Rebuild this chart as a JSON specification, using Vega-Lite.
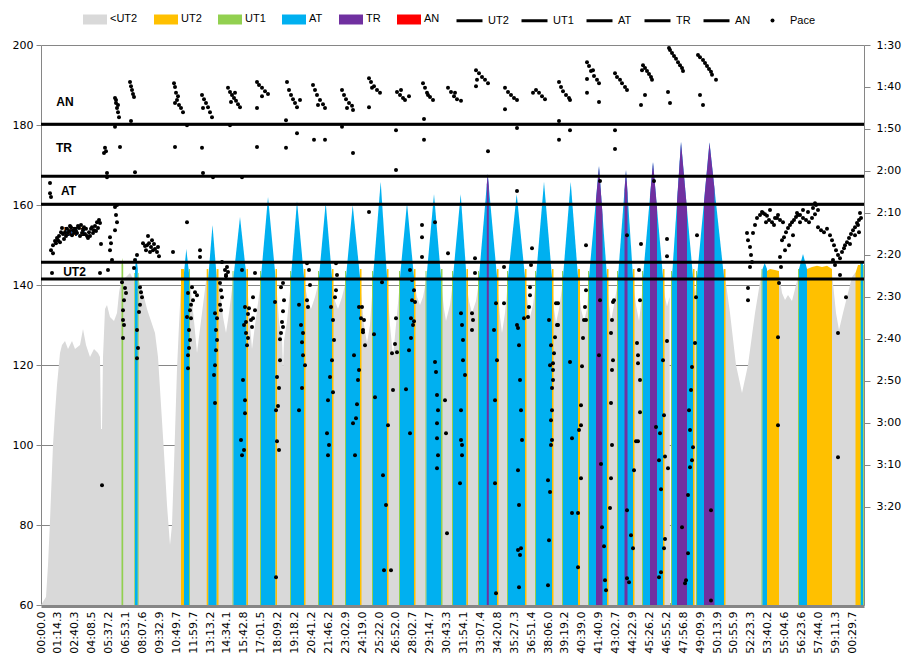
{
"$schema":"https://vega.github.io/schema/vega-lite/v6.json",
"width":823,"height":560,
"autosize":{"type":"none"},
"padding":{"left":41,"top":45,"right":47,"bottom":57},
"background":"white",
"config":{"view":{"stroke":null},"font":"DejaVu Sans","axis":{"labelFont":"DejaVu Sans","labelFontSize":11,"labelColor":"#000000"},"axisX":{"labelOverlap":false,"labelFlush":false,"labelBound":false},"legend":{"labelFont":"Liberation Sans","labelFontSize":11,"labelColor":"#000000","padding":0}},
"datasets":{
"grey":[{"s":0,"hr":60},{"s":5,"hr":62},{"s":7,"hr":70},{"s":9,"hr":81},{"s":12,"hr":100},{"s":14,"hr":108},{"s":16,"hr":115},{"s":19,"hr":123},{"s":21,"hr":125},{"s":24,"hr":126},{"s":27,"hr":124},{"s":31,"hr":126},{"s":34,"hr":124},{"s":39,"hr":125},{"s":42,"hr":129},{"s":45,"hr":125},{"s":49,"hr":122},{"s":53,"hr":124},{"s":57,"hr":123},{"s":59,"hr":122},{"s":60,"hr":104},{"s":61,"hr":104},{"s":62,"hr":122},{"s":64,"hr":134},{"s":66,"hr":135},{"s":69,"hr":132},{"s":73,"hr":131},{"s":76,"hr":133},{"s":78,"hr":138},{"s":80,"hr":141},{"s":85,"hr":142},{"s":89,"hr":143},{"s":93,"hr":141},{"s":98,"hr":141},{"s":102,"hr":138},{"s":106,"hr":134},{"s":110,"hr":131},{"s":114,"hr":128},{"s":117,"hr":122},{"s":120,"hr":110},{"s":123,"hr":98},{"s":126,"hr":85},{"s":129,"hr":75},{"s":131,"hr":80},{"s":133,"hr":95},{"s":136,"hr":119},{"s":138,"hr":130},{"s":140,"hr":140},{"s":144,"hr":142},{"s":149,"hr":141},{"s":153,"hr":131},{"s":156,"hr":123},{"s":160,"hr":131},{"s":165,"hr":141},{"s":171,"hr":142},{"s":178,"hr":141},{"s":182,"hr":132},{"s":185,"hr":128},{"s":188,"hr":133},{"s":192,"hr":141},{"s":199,"hr":142},{"s":206,"hr":141},{"s":209,"hr":130},{"s":211,"hr":124},{"s":214,"hr":130},{"s":220,"hr":141},{"s":227,"hr":142},{"s":235,"hr":141},{"s":238,"hr":131},{"s":241,"hr":126},{"s":242,"hr":119},{"s":243,"hr":126},{"s":246,"hr":131},{"s":250,"hr":141},{"s":256,"hr":142},{"s":263,"hr":141},{"s":267,"hr":136},{"s":270,"hr":134},{"s":274,"hr":137},{"s":278,"hr":141},{"s":284,"hr":142},{"s":291,"hr":141},{"s":294,"hr":136},{"s":297,"hr":134},{"s":301,"hr":137},{"s":305,"hr":141},{"s":312,"hr":142},{"s":319,"hr":141},{"s":323,"hr":130},{"s":326,"hr":125.5},{"s":329,"hr":130},{"s":332,"hr":141},{"s":339,"hr":142},{"s":346,"hr":141},{"s":349,"hr":130},{"s":352,"hr":122},{"s":355,"hr":130},{"s":359,"hr":141},{"s":366,"hr":142},{"s":373,"hr":141},{"s":376,"hr":137},{"s":379,"hr":135},{"s":382,"hr":137},{"s":385,"hr":141},{"s":392,"hr":142},{"s":400,"hr":141},{"s":403,"hr":134},{"s":405,"hr":131},{"s":409,"hr":135},{"s":412,"hr":141},{"s":419,"hr":142},{"s":425,"hr":141},{"s":428,"hr":136},{"s":431,"hr":133},{"s":435,"hr":136},{"s":438,"hr":141},{"s":447,"hr":142},{"s":456,"hr":141},{"s":459,"hr":132},{"s":461,"hr":128},{"s":464,"hr":133},{"s":467,"hr":141},{"s":475,"hr":142},{"s":484,"hr":141},{"s":487,"hr":135},{"s":489,"hr":132},{"s":492,"hr":135},{"s":495,"hr":141},{"s":503,"hr":142},{"s":511,"hr":141},{"s":513,"hr":134},{"s":515,"hr":130.5},{"s":518,"hr":134},{"s":522,"hr":141},{"s":529,"hr":142},{"s":537,"hr":141},{"s":540,"hr":134},{"s":543,"hr":131},{"s":546,"hr":134},{"s":548,"hr":141},{"s":557,"hr":142},{"s":566,"hr":141},{"s":568,"hr":135},{"s":570,"hr":131},{"s":573,"hr":135},{"s":577,"hr":141},{"s":585,"hr":142},{"s":592,"hr":141},{"s":595,"hr":135},{"s":598,"hr":131},{"s":600,"hr":135},{"s":602,"hr":141},{"s":612,"hr":142},{"s":622,"hr":141},{"s":624,"hr":137},{"s":626,"hr":134.6},{"s":628.6,"hr":137},{"s":629,"hr":60},{"s":629.8,"hr":60},{"s":630.2,"hr":137},{"s":631,"hr":141},{"s":641,"hr":142},{"s":652,"hr":141},{"s":654,"hr":138},{"s":656,"hr":141},{"s":669,"hr":142},{"s":683,"hr":144},{"s":689,"hr":133},{"s":695,"hr":120},{"s":701,"hr":113},{"s":707,"hr":120},{"s":714,"hr":133},{"s":721,"hr":143.75},{"s":729,"hr":143},{"s":738,"hr":143},{"s":741,"hr":138},{"s":744,"hr":136.25},{"s":747,"hr":137.5},{"s":751,"hr":136},{"s":755,"hr":140},{"s":758,"hr":143},{"s":769,"hr":143},{"s":791,"hr":143},{"s":795,"hr":133},{"s":798,"hr":128.75},{"s":802,"hr":133},{"s":807,"hr":138},{"s":811,"hr":142},{"s":814,"hr":143},{"s":823,"hr":144}],
"zones":[
{"g":1,"z":"UT1","s":80.5,"hr":145},{"g":1,"z":"UT1","s":81.3,"hr":146.75},{"g":1,"z":"UT1","s":82.2,"hr":145},
{"g":2,"z":"UT1","s":93.3,"hr":143},{"g":2,"z":"UT1","s":94.2,"hr":143},
{"g":3,"z":"AT","s":94,"hr":144},{"g":3,"z":"AT","s":95.3,"hr":147},{"g":3,"z":"AT","s":96.8,"hr":144},
{"g":4,"z":"UT1","s":96.8,"hr":143},{"g":4,"z":"UT1","s":97.6,"hr":143},
{"g":5,"z":"UT2","s":140,"hr":144},{"g":5,"z":"UT2","s":143,"hr":144},
{"g":6,"z":"AT","s":143,"hr":143},{"g":6,"z":"AT","s":145.3,"hr":149},{"g":6,"z":"AT","s":148,"hr":143},
{"g":7,"z":"UT1","s":148,"hr":144},{"g":7,"z":"UT1","s":149,"hr":144},
{"g":8,"z":"UT2","s":165.7,"hr":144},{"g":8,"z":"UT2","s":167.3,"hr":144},
{"g":9,"z":"AT","s":167.3,"hr":142},{"g":9,"z":"AT","s":171.5,"hr":155},{"g":9,"z":"AT","s":175.7,"hr":142},
{"g":10,"z":"UT2","s":175.7,"hr":144},{"g":10,"z":"UT2","s":177.5,"hr":144},
{"g":11,"z":"UT1","s":191.5,"hr":143.5},{"g":11,"z":"UT1","s":192.5,"hr":143.5},
{"g":12,"z":"AT","s":192.5,"hr":142},{"g":12,"z":"AT","s":199,"hr":157},{"g":12,"z":"AT","s":205.5,"hr":142},
{"g":13,"z":"UT2","s":205.5,"hr":144},{"g":13,"z":"UT2","s":207,"hr":144},
{"g":14,"z":"UT1","s":219,"hr":143.5},{"g":14,"z":"UT1","s":220,"hr":143.5},
{"g":15,"z":"AT","s":220,"hr":142},{"g":15,"z":"AT","s":227,"hr":162},{"g":15,"z":"AT","s":234.5,"hr":142},
{"g":16,"z":"UT2","s":234.5,"hr":144},{"g":16,"z":"UT2","s":236,"hr":144},
{"g":17,"z":"UT1","s":249,"hr":143.5},{"g":17,"z":"UT1","s":250,"hr":143.5},
{"g":18,"z":"AT","s":250,"hr":142},{"g":18,"z":"AT","s":256,"hr":161},{"g":18,"z":"AT","s":263,"hr":142},
{"g":19,"z":"UT2","s":263,"hr":144},{"g":19,"z":"UT2","s":264.5,"hr":144},
{"g":20,"z":"UT1","s":277,"hr":143.5},{"g":20,"z":"UT1","s":278,"hr":143.5},
{"g":21,"z":"AT","s":278,"hr":142},{"g":21,"z":"AT","s":284.7,"hr":160.6},{"g":21,"z":"AT","s":291,"hr":142},
{"g":22,"z":"UT2","s":291,"hr":144},{"g":22,"z":"UT2","s":292.5,"hr":144},
{"g":23,"z":"UT1","s":304,"hr":143.5},{"g":23,"z":"UT1","s":305,"hr":143.5},
{"g":24,"z":"AT","s":305,"hr":142},{"g":24,"z":"AT","s":311.7,"hr":160},{"g":24,"z":"AT","s":319,"hr":142},
{"g":25,"z":"UT2","s":319,"hr":144},{"g":25,"z":"UT2","s":320.5,"hr":144},
{"g":26,"z":"UT1","s":331,"hr":143.5},{"g":26,"z":"UT1","s":332,"hr":143.5},
{"g":27,"z":"AT","s":332,"hr":142},{"g":27,"z":"AT","s":339.7,"hr":165.8},{"g":27,"z":"AT","s":346,"hr":142},
{"g":28,"z":"UT2","s":346,"hr":144},{"g":28,"z":"UT2","s":347.5,"hr":144},
{"g":29,"z":"UT1","s":358,"hr":143.5},{"g":29,"z":"UT1","s":359,"hr":143.5},
{"g":30,"z":"AT","s":359,"hr":142},{"g":30,"z":"AT","s":366,"hr":160.5},{"g":30,"z":"AT","s":373,"hr":142},
{"g":31,"z":"UT2","s":373,"hr":144},{"g":31,"z":"UT2","s":374.5,"hr":144},
{"g":32,"z":"UT1","s":384.5,"hr":143.5},{"g":32,"z":"UT1","s":385.5,"hr":143.5},
{"g":33,"z":"AT","s":385.5,"hr":142},{"g":33,"z":"AT","s":393,"hr":162.75},{"g":33,"z":"AT","s":400,"hr":142},
{"g":34,"z":"UT1","s":400,"hr":144},{"g":34,"z":"UT1","s":401.5,"hr":144},
{"g":35,"z":"UT1","s":411,"hr":143.5},{"g":35,"z":"UT1","s":412,"hr":143.5},
{"g":36,"z":"AT","s":412,"hr":142},{"g":36,"z":"AT","s":419.7,"hr":162.75},{"g":36,"z":"AT","s":425.5,"hr":142},
{"g":37,"z":"UT2","s":425.5,"hr":144},{"g":37,"z":"UT2","s":427,"hr":144},
{"g":38,"z":"UT1","s":437,"hr":143.5},{"g":38,"z":"UT1","s":438,"hr":143.5},
{"g":39,"z":"AT","s":438,"hr":142},{"g":39,"z":"AT","s":446.7,"hr":167.75},{"g":39,"z":"AT","s":456,"hr":142},
{"g":40,"z":"TR","s":445.8,"hr":165.1},{"g":40,"z":"TR","s":446.7,"hr":167.75},{"g":40,"z":"TR","s":447.8,"hr":164.7},
{"g":41,"z":"UT2","s":456,"hr":144},{"g":41,"z":"UT2","s":457.5,"hr":144},
{"g":42,"z":"UT1","s":466,"hr":143.5},{"g":42,"z":"UT1","s":467,"hr":143.5},
{"g":43,"z":"AT","s":467,"hr":142},{"g":43,"z":"AT","s":475.7,"hr":162.75},{"g":43,"z":"AT","s":484,"hr":142},
{"g":44,"z":"UT2","s":484,"hr":144},{"g":44,"z":"UT2","s":485.5,"hr":144},
{"g":45,"z":"UT1","s":494,"hr":143.5},{"g":45,"z":"UT1","s":495,"hr":143.5},
{"g":46,"z":"AT","s":495,"hr":142},{"g":46,"z":"AT","s":503,"hr":165.8},{"g":46,"z":"AT","s":511,"hr":142},
{"g":47,"z":"UT2","s":511,"hr":144},{"g":47,"z":"UT2","s":512.5,"hr":144},
{"g":48,"z":"UT1","s":521,"hr":143.5},{"g":48,"z":"UT1","s":522,"hr":143.5},
{"g":49,"z":"AT","s":522,"hr":142},{"g":49,"z":"AT","s":529.7,"hr":165.8},{"g":49,"z":"AT","s":537,"hr":142},
{"g":50,"z":"UT2","s":537,"hr":144},{"g":50,"z":"UT2","s":539,"hr":144},
{"g":51,"z":"UT1","s":547,"hr":143.5},{"g":51,"z":"UT1","s":548,"hr":143.5},
{"g":52,"z":"AT","s":548,"hr":142},{"g":52,"z":"AT","s":558,"hr":169.75},{"g":52,"z":"AT","s":566,"hr":142},
{"g":53,"z":"TR","s":555,"hr":161.4},{"g":53,"z":"TR","s":558,"hr":169.75},{"g":53,"z":"TR","s":561.5,"hr":157.6},
{"g":54,"z":"UT2","s":566,"hr":144},{"g":54,"z":"UT2","s":567.5,"hr":144},
{"g":55,"z":"UT1","s":576,"hr":143.5},{"g":55,"z":"UT1","s":577,"hr":143.5},
{"g":56,"z":"AT","s":577,"hr":142},{"g":56,"z":"AT","s":585,"hr":168.75},{"g":56,"z":"AT","s":592,"hr":142},
{"g":57,"z":"TR","s":583.5,"hr":163.7},{"g":57,"z":"TR","s":585,"hr":168.75},{"g":57,"z":"TR","s":586.5,"hr":163},
{"g":58,"z":"UT2","s":592,"hr":144},{"g":58,"z":"UT2","s":593.5,"hr":144},
{"g":59,"z":"UT1","s":601,"hr":143.5},{"g":59,"z":"UT1","s":602,"hr":143.5},
{"g":60,"z":"AT","s":602,"hr":142},{"g":60,"z":"AT","s":612,"hr":170.75},{"g":60,"z":"AT","s":622,"hr":142},
{"g":61,"z":"TR","s":609,"hr":162.1},{"g":61,"z":"TR","s":612,"hr":170.75},{"g":61,"z":"TR","s":616,"hr":159.25},
{"g":62,"z":"UT2","s":622,"hr":144},{"g":62,"z":"UT2","s":623.5,"hr":144},
{"g":63,"z":"UT1","s":630,"hr":143.5},{"g":63,"z":"UT1","s":631,"hr":143.5},
{"g":64,"z":"AT","s":631,"hr":142},{"g":64,"z":"AT","s":640,"hr":175.8},{"g":64,"z":"AT","s":652,"hr":142},
{"g":65,"z":"TR","s":636,"hr":160.8},{"g":65,"z":"TR","s":640,"hr":175.8},{"g":65,"z":"TR","s":646,"hr":158.9},
{"g":66,"z":"UT2","s":652,"hr":144},{"g":66,"z":"UT2","s":653.5,"hr":144},
{"g":67,"z":"UT1","s":655,"hr":143.5},{"g":67,"z":"UT1","s":656,"hr":143.5},
{"g":68,"z":"AT","s":656,"hr":142},{"g":68,"z":"AT","s":668.5,"hr":175.6},{"g":68,"z":"AT","s":683,"hr":142},
{"g":69,"z":"TR","s":663,"hr":160.8},{"g":69,"z":"TR","s":668.5,"hr":175.6},{"g":69,"z":"TR","s":673.5,"hr":164},
{"g":70,"z":"UT2","s":683,"hr":144},{"g":70,"z":"UT2","s":684.5,"hr":144},
{"g":71,"z":"UT1","s":720.5,"hr":144},{"g":71,"z":"UT1","s":721.5,"hr":144},
{"g":72,"z":"AT","s":721.5,"hr":144},{"g":72,"z":"AT","s":723.7,"hr":145.5},{"g":72,"z":"AT","s":726,"hr":144},
{"g":73,"z":"UT2","s":726,"hr":143.5},{"g":73,"z":"UT2","s":729,"hr":144},{"g":73,"z":"UT2","s":734,"hr":143.75},{"g":73,"z":"UT2","s":738,"hr":143.5},
{"g":74,"z":"UT1","s":757,"hr":144},{"g":74,"z":"UT1","s":758,"hr":144},
{"g":75,"z":"AT","s":758,"hr":144},{"g":75,"z":"AT","s":762,"hr":147.75},{"g":75,"z":"AT","s":766,"hr":144},
{"g":76,"z":"UT2","s":766,"hr":144},{"g":76,"z":"UT2","s":771,"hr":144.5},{"g":76,"z":"UT2","s":776,"hr":144.8},{"g":76,"z":"UT2","s":781,"hr":144.5},{"g":76,"z":"UT2","s":786,"hr":144.8},{"g":76,"z":"UT2","s":791,"hr":144},
{"g":77,"z":"UT2","s":814.5,"hr":143},{"g":77,"z":"UT2","s":817,"hr":145},{"g":77,"z":"UT2","s":819,"hr":145},
{"g":78,"z":"UT1","s":819,"hr":145.5},{"g":78,"z":"UT1","s":820,"hr":145.5},
{"g":79,"z":"AT","s":820,"hr":146},{"g":79,"z":"AT","s":822,"hr":146},
{"g":80,"z":"UT1","s":822,"hr":145},{"g":80,"z":"UT1","s":822.8,"hr":145}
],
"lines":[{"line":"UT2","hr":141.5},{"line":"UT1","hr":145.7},{"line":"AT","hr":160.2},{"line":"TR","hr":167.2},{"line":"AN","hr":180.2}],
"labels":[{"s":24,"hr":185.75,"t":"AN"},{"s":23,"hr":174.25,"t":"TR"},{"s":27.5,"hr":163.5,"t":"AT"},{"s":34,"hr":153.25,"t":"UT1"},{"s":33.5,"hr":143.25,"t":"UT2"}],
"pace":[
{"s":9,"p":122.9},{"s":9,"p":125.3},{"s":10,"p":126.2},{"s":10,"p":138.9},{"s":12,"p":139.6},{"s":11,"p":144.3},{"s":12,"p":137.7},{"s":14,"p":136.7},{"s":16,"p":136.0},{"s":18,"p":135.5},{"s":20,"p":134.6},{"s":22,"p":135.0},{"s":24,"p":134.6},{"s":26,"p":133.8},{"s":28,"p":134.3},{"s":30,"p":133.4},{"s":32,"p":134.1},{"s":34,"p":133.8},{"s":36,"p":134.8},{"s":38,"p":133.6},{"s":40,"p":132.9},{"s":42,"p":134.1},{"s":44,"p":135.0},{"s":46,"p":135.5},{"s":48,"p":134.6},{"s":50,"p":133.8},{"s":52,"p":134.8},{"s":54,"p":133.1},{"s":56,"p":132.2},{"s":58,"p":131.7},{"s":21,"p":133.6},{"s":25,"p":135.5},{"s":29,"p":133.1},{"s":33,"p":134.8},{"s":37,"p":133.1},{"s":41,"p":134.8},{"s":45,"p":133.8},{"s":49,"p":135.5},{"s":53,"p":134.1},{"s":57,"p":133.6},{"s":19,"p":137.0},{"s":23,"p":136.2},{"s":15,"p":137.2},{"s":17,"p":136.5},{"s":27,"p":134.8},{"s":31,"p":135.3},{"s":35,"p":134.3},{"s":39,"p":135.5},{"s":43,"p":133.4},{"s":47,"p":136.0},{"s":51,"p":133.4},{"s":55,"p":134.3},{"s":59,"p":132.4},
{"s":60,"p":137.4},{"s":59,"p":144.3},{"s":64,"p":114.5},{"s":65,"p":115.3},{"s":63,"p":115.7},{"s":66,"p":120.5},{"s":66,"p":121.5},{"s":69,"p":135.8},{"s":70,"p":137.2},{"s":69,"p":138.9},{"s":71,"p":141.2},{"s":67,"p":143.6},
{"s":74,"p":102.6},{"s":75,"p":103.8},{"s":76,"p":105.0},{"s":77,"p":106.0},{"s":78,"p":107.2},{"s":75,"p":103.1},{"s":77,"p":104.3},{"s":74,"p":109.5},{"s":76,"p":128.1},{"s":75,"p":130.5},{"s":76,"p":132.2},{"s":74,"p":134.1},{"s":74,"p":128.6},
{"s":89,"p":98.8},{"s":90,"p":99.8},{"s":91,"p":100.7},{"s":92,"p":101.7},{"s":93,"p":102.4},{"s":90,"p":108.1},{"s":94,"p":120.3},{"s":79,"p":114.3},{"s":94,"p":141.2},{"s":93,"p":143.1},{"s":96,"p":140.0},
{"s":102,"p":137.2},{"s":104,"p":137.9},{"s":106,"p":137.7},{"s":108,"p":137.2},{"s":110,"p":138.1},{"s":112,"p":138.9},{"s":114,"p":138.6},{"s":116,"p":139.3},{"s":118,"p":140.3},{"s":105,"p":138.9},{"s":109,"p":139.3},{"s":113,"p":137.4},{"s":117,"p":138.1},{"s":107,"p":135.5},{"s":111,"p":136.5},
{"s":81,"p":146.5},{"s":84,"p":147.9},{"s":85,"p":149.1},{"s":83,"p":150.8},{"s":82,"p":153.2},{"s":82,"p":155.5},{"s":83,"p":156.7},{"s":82,"p":159.8},{"s":99,"p":147.7},{"s":100,"p":148.9},{"s":101,"p":150.1},{"s":99,"p":151.9},{"s":98,"p":153.6},{"s":96,"p":157.9},{"s":97,"p":162.2},{"s":96,"p":164.6},{"s":61,"p":194.9},
{"s":133,"p":99.1},{"s":134,"p":100.0},{"s":135,"p":101.4},{"s":136,"p":103.1},{"s":138,"p":104.3},{"s":140,"p":105.0},{"s":142,"p":106.0},{"s":134,"p":103.8},{"s":137,"p":102.2},{"s":134,"p":114.3},{"s":146,"p":109.1},{"s":146,"p":132.2},{"s":132,"p":139.3},{"s":146,"p":154.8},{"s":151,"p":147.7},{"s":154,"p":148.9},{"s":156,"p":149.6},{"s":152,"p":150.8},{"s":150,"p":151.9},{"s":147,"p":149.1},{"s":149,"p":153.2},{"s":150,"p":155.1},{"s":148,"p":157.9},{"s":149,"p":160.3},{"s":148,"p":162.2},{"s":147,"p":163.9},{"s":147,"p":167.0},
{"s":161,"p":101.9},{"s":163,"p":102.9},{"s":165,"p":103.8},{"s":167,"p":104.8},{"s":169,"p":106.0},{"s":171,"p":107.2},{"s":162,"p":105.0},{"s":161,"p":114.5},{"s":162,"p":120.5},{"s":172,"p":121.5},{"s":159,"p":138.9},{"s":159,"p":140.5},{"s":174,"p":153.9},{"s":176,"p":155.1},{"s":175,"p":157.9},{"s":176,"p":160.3},{"s":175,"p":162.7},{"s":174,"p":166.3},{"s":173,"p":168.6},{"s":174,"p":175.3},{"s":179,"p":146.7},{"s":180,"p":148.4},{"s":181,"p":150.1},{"s":179,"p":151.9},{"s":180,"p":153.2},{"s":181,"p":141.7},{"s":184,"p":143.6},{"s":185,"p":144.8},
{"s":187,"p":100.2},{"s":189,"p":101.2},{"s":191,"p":101.9},{"s":193,"p":102.6},{"s":195,"p":103.3},{"s":197,"p":104.1},{"s":199,"p":104.8},{"s":190,"p":103.6},{"s":194,"p":101.4},{"s":189,"p":109.1},{"s":201,"p":121.5},{"s":186,"p":142.9},{"s":185,"p":145.1},{"s":187,"p":144.1},{"s":201,"p":143.6},{"s":204,"p":152.4},{"s":207,"p":154.1},{"s":205,"p":156.0},{"s":203,"p":156.7},{"s":205,"p":158.6},{"s":207,"p":159.8},{"s":206,"p":161.5},{"s":202,"p":169.8},{"s":204,"p":174.6},{"s":204,"p":177.7},{"s":203,"p":186.5},{"s":201,"p":187.7},{"s":200,"p":184.1},{"s":208,"p":152.7},{"s":210,"p":155.5},{"s":211,"p":157.2},{"s":212,"p":155.1},{"s":214,"p":153.2},
{"s":216,"p":98.8},{"s":218,"p":99.5},{"s":221,"p":100.2},{"s":224,"p":101.0},{"s":227,"p":101.7},{"s":221,"p":102.2},{"s":216,"p":105.0},{"s":216,"p":114.3},{"s":214,"p":144.3},{"s":212,"p":150.1},{"s":240,"p":147.7},{"s":243,"p":150.8},{"s":242,"p":153.4},{"s":241,"p":156.0},{"s":240,"p":158.6},{"s":239,"p":160.1},{"s":239,"p":165.1},{"s":238,"p":171.7},{"s":237,"p":176.0},{"s":238,"p":186.5},{"s":235,"p":216.8},{"s":234,"p":151.2},{"s":236,"p":169.1},{"s":235,"p":177.0},{"s":236,"p":184.4},{"s":242,"p":146.7},{"s":242,"p":157.2},
{"s":246,"p":98.8},{"s":248,"p":100.7},{"s":250,"p":101.9},{"s":252,"p":102.9},{"s":254,"p":103.8},{"s":256,"p":104.8},{"s":259,"p":103.1},{"s":245,"p":107.9},{"s":245,"p":114.5},{"s":256,"p":111.0},{"s":258,"p":151.9},{"s":260,"p":156.7},{"s":261,"p":160.8},{"s":262,"p":163.9},{"s":264,"p":166.3},{"s":261,"p":171.7},{"s":258,"p":177.0},{"s":262,"p":158.6},{"s":266,"p":142.0},{"s":268,"p":143.6},{"s":269,"p":147.2},{"s":266,"p":150.8},{"s":267,"p":152.4},
{"s":272,"p":99.5},{"s":274,"p":100.7},{"s":276,"p":101.9},{"s":279,"p":103.1},{"s":282,"p":104.1},{"s":284,"p":105.0},{"s":277,"p":104.3},{"s":273,"p":112.6},{"s":284,"p":112.6},{"s":290,"p":152.4},{"s":292,"p":155.5},{"s":293,"p":160.3},{"s":291,"p":165.1},{"s":289,"p":169.1},{"s":287,"p":174.6},{"s":286,"p":182.5},{"s":288,"p":185.3},{"s":287,"p":187.7},{"s":292,"p":172.7},{"s":295,"p":142.0},{"s":296,"p":144.8},{"s":295,"p":148.4},{"s":294,"p":150.1},
{"s":301,"p":100.7},{"s":303,"p":101.9},{"s":305,"p":102.9},{"s":308,"p":103.8},{"s":311,"p":104.5},{"s":312,"p":105.5},{"s":306,"p":105.0},{"s":301,"p":109.5},{"s":312,"p":115.7},{"s":318,"p":152.4},{"s":320,"p":155.1},{"s":322,"p":158.4},{"s":324,"p":161.5},{"s":318,"p":167.4},{"s":317,"p":169.8},{"s":316,"p":175.6},{"s":315,"p":178.9},{"s":314,"p":187.7},{"s":312,"p":180.1},{"s":313,"p":163.9},{"s":321,"p":152.4},{"s":323,"p":155.5},{"s":322,"p":157.9},
{"s":328,"p":97.9},{"s":330,"p":98.8},{"s":333,"p":99.8},{"s":336,"p":100.7},{"s":339,"p":101.4},{"s":331,"p":100.2},{"s":328,"p":104.8},{"s":328,"p":129.8},{"s":333,"p":158.9},{"s":334,"p":173.9},{"s":342,"p":192.5},{"s":345,"p":199.6},{"s":343,"p":215.1},{"s":350,"p":215.1},{"s":347,"p":180.6},{"s":352,"p":172.2},{"s":351,"p":163.4},{"s":341,"p":146.5},
{"s":355,"p":110.3},{"s":355,"p":119.8},{"s":356,"p":101.2},{"s":359,"p":101.9},{"s":362,"p":102.6},{"s":364,"p":103.1},{"s":368,"p":102.2},{"s":360,"p":100.7},{"s":355,"p":155.1},{"s":354,"p":161.2},{"s":356,"p":163.2},{"s":370,"p":159.8},{"s":368,"p":162.7},{"s":365,"p":172.0},{"s":369,"p":182.5},{"s":373,"p":155.8},{"s":374,"p":151.2},{"s":369,"p":143.6},{"s":371,"p":146.0},{"s":373,"p":148.4},{"s":371,"p":150.8},{"s":370,"p":155.1},{"s":372,"p":156.7},
{"s":382,"p":99.1},{"s":384,"p":100.2},{"s":386,"p":101.4},{"s":389,"p":102.4},{"s":392,"p":103.1},{"s":387,"p":101.9},{"s":383,"p":107.6},{"s":383,"p":112.6},{"s":381,"p":132.9},{"s":381,"p":135.8},{"s":381,"p":140.5},{"s":394,"p":132.2},{"s":394,"p":165.5},{"s":395,"p":167.9},{"s":396,"p":173.4},{"s":397,"p":177.0},{"s":396,"p":180.1},{"s":396,"p":183.7},{"s":397,"p":187.7},{"s":396,"p":190.8},{"s":405,"p":182.5},{"s":406,"p":206.3},{"s":404,"p":174.6},
{"s":407,"p":100.2},{"s":410,"p":101.2},{"s":413,"p":102.2},{"s":416,"p":102.9},{"s":420,"p":103.3},{"s":414,"p":101.4},{"s":407,"p":139.6},{"s":420,"p":153.9},{"s":421,"p":156.7},{"s":422,"p":160.3},{"s":422,"p":165.1},{"s":420,"p":177.0},{"s":420,"p":184.1},{"s":421,"p":187.7},{"s":419,"p":194.4},{"s":421,"p":185.3},{"s":424,"p":168.6},{"s":434,"p":140.8},{"s":434,"p":144.3},{"s":431,"p":153.9},{"s":432,"p":155.5},{"s":431,"p":157.9},
{"s":435,"p":96.0},{"s":438,"p":96.7},{"s":441,"p":97.6},{"s":444,"p":98.3},{"s":447,"p":99.1},{"s":436,"p":98.3},{"s":435,"p":99.8},{"s":447,"p":115.3},{"s":455,"p":151.5},{"s":453,"p":157.9},{"s":456,"p":165.1},{"s":454,"p":174.6},{"s":454,"p":194.4},{"s":455,"p":220.6},
{"s":464,"p":100.2},{"s":467,"p":101.2},{"s":470,"p":101.9},{"s":473,"p":102.6},{"s":476,"p":103.1},{"s":464,"p":105.3},{"s":476,"p":109.8},{"s":476,"p":124.8},{"s":463,"p":142.9},{"s":463,"p":151.5},{"s":476,"p":156.7},{"s":477,"p":157.4},{"s":478,"p":161.5},{"s":479,"p":169.8},{"s":480,"p":177.0},{"s":481,"p":184.1},{"s":477,"p":191.3},{"s":478,"p":199.6},{"s":480,"p":209.9},{"s":477,"p":210.3},{"s":479,"p":211.5},{"s":478,"p":219.2},{"s":483,"p":155.1},
{"s":492,"p":101.4},{"s":495,"p":100.7},{"s":498,"p":101.4},{"s":501,"p":102.2},{"s":504,"p":102.9},{"s":491,"p":138.4},{"s":490,"p":142.4},{"s":489,"p":147.7},{"s":489,"p":149.6},{"s":488,"p":152.4},{"s":487,"p":154.8},{"s":508,"p":155.5},{"s":510,"p":161.5},{"s":509,"p":166.3},{"s":512,"p":169.8},{"s":511,"p":184.1},{"s":510,"p":185.3},{"s":507,"p":193.7},{"s":509,"p":196.5},{"s":508,"p":208.0},{"s":507,"p":218.7},
{"s":518,"p":98.8},{"s":520,"p":100.0},{"s":522,"p":101.0},{"s":525,"p":101.9},{"s":528,"p":102.6},{"s":529,"p":103.1},{"s":518,"p":108.1},{"s":518,"p":112.6},{"s":529,"p":110.3},{"s":517,"p":151.5},{"s":517,"p":156.7},{"s":515,"p":151.5},{"s":516,"p":156.7},{"s":514,"p":159.6},{"s":513,"p":163.4},{"s":512,"p":165.8},{"s":512,"p":167.4},{"s":511,"p":171.7},{"s":511,"p":177.0},{"s":510,"p":179.4},{"s":529,"p":165.5},{"s":531,"p":183.7},{"s":531,"p":201.5},{"s":545,"p":137.7},{"s":545,"p":148.4},{"s":545,"p":155.5},{"s":543,"p":155.5},{"s":542,"p":159.8},{"s":541,"p":166.5},{"s":540,"p":175.8},{"s":540,"p":180.6},{"s":538,"p":181.7},{"s":540,"p":193.2},{"s":537,"p":201.5},{"s":537,"p":214.4},{"s":544,"p":152.4},
{"s":546,"p":94.1},{"s":548,"p":95.0},{"s":550,"p":96.2},{"s":553,"p":97.4},{"s":556,"p":98.3},{"s":558,"p":99.1},{"s":552,"p":96.0},{"s":546,"p":98.1},{"s":546,"p":101.4},{"s":558,"p":103.6},{"s":559,"p":122.4},{"s":559,"p":150.8},{"s":558,"p":163.9},{"s":560,"p":189.8},{"s":561,"p":204.9},{"s":563,"p":209.4},{"s":564,"p":217.5},{"s":565,"p":219.9},{"s":569,"p":200.3},{"s":570,"p":193.2},{"s":571,"p":185.3},{"s":570,"p":175.3},{"s":571,"p":167.4},{"s":572,"p":165.1},{"s":570,"p":158.6},{"s":571,"p":155.5},{"s":573,"p":150.8},{"s":572,"p":151.2},
{"s":574,"p":96.7},{"s":576,"p":97.6},{"s":579,"p":98.3},{"s":581,"p":99.1},{"s":584,"p":100.0},{"s":586,"p":100.7},{"s":574,"p":110.3},{"s":574,"p":114.8},{"s":586,"p":135.3},{"s":596,"p":161.0},{"s":597,"p":163.9},{"s":597,"p":165.8},{"s":599,"p":169.8},{"s":599,"p":177.5},{"s":595,"p":184.4},{"s":597,"p":184.4},{"s":593,"p":191.3},{"s":590,"p":206.8},{"s":586,"p":200.8},{"s":588,"p":218.0},{"s":586,"p":217.0},{"s":592,"p":209.9},{"s":600,"p":137.4},{"s":598,"p":143.6},{"s":599,"p":150.8},
{"s":602,"p":94.8},{"s":604,"p":95.5},{"s":606,"p":96.2},{"s":608,"p":96.9},{"s":610,"p":97.6},{"s":611,"p":98.3},{"s":601,"p":96.0},{"s":600,"p":104.3},{"s":604,"p":101.9},{"s":613,"p":122.4},{"s":615,"p":181.0},{"s":619,"p":182.5},{"s":618,"p":188.9},{"s":620,"p":195.8},{"s":624,"p":207.7},{"s":623,"p":209.9},{"s":620,"p":215.6},{"s":618,"p":216.8},{"s":627,"p":190.8},{"s":624,"p":188.0},{"s":626,"p":160.5},{"s":623,"p":178.2},{"s":622,"p":165.1},{"s":626,"p":136.2},{"s":626,"p":140.3},
{"s":628,"p":90.7},{"s":629,"p":91.2},{"s":631,"p":91.9},{"s":633,"p":92.6},{"s":635,"p":93.3},{"s":637,"p":94.1},{"s":639,"p":94.8},{"s":641,"p":95.5},{"s":642,"p":96.2},{"s":627,"p":101.2},{"s":629,"p":103.8},{"s":641,"p":204.9},{"s":644,"p":218.2},{"s":645,"p":217.5},{"s":647,"p":197.2},{"s":649,"p":190.6},{"s":651,"p":188.9},{"s":652,"p":185.8},{"s":649,"p":181.7},{"s":648,"p":177.0},{"s":650,"p":172.2},{"s":651,"p":166.7},{"s":654,"p":161.0},{"s":647,"p":211.1},{"s":656,"p":135.3},{"s":655,"p":150.1},
{"s":657,"p":92.4},{"s":659,"p":92.9},{"s":662,"p":93.6},{"s":664,"p":94.3},{"s":666,"p":95.0},{"s":668,"p":95.7},{"s":670,"p":96.4},{"s":671,"p":97.1},{"s":659,"p":101.9},{"s":662,"p":104.3},{"s":670,"p":200.8},{"s":670,"p":222.3},{"s":675,"p":98.3},
{"s":706,"p":134.8},{"s":707,"p":136.5},{"s":709,"p":138.1},{"s":710,"p":140.0},{"s":711,"p":141.7},{"s":709,"p":142.9},{"s":707,"p":147.9},{"s":707,"p":150.8},{"s":712,"p":134.8},{"s":714,"p":132.9},{"s":716,"p":131.2},{"s":719,"p":130.5},{"s":721,"p":129.8},{"s":724,"p":130.3},{"s":726,"p":130.7},{"s":728,"p":131.7},{"s":731,"p":132.2},{"s":734,"p":131.2},{"s":737,"p":130.5},{"s":739,"p":131.7},{"s":742,"p":132.2},{"s":722,"p":130.0},{"s":736,"p":131.2},{"s":739,"p":140.5},{"s":740,"p":142.9},{"s":738,"p":146.7},{"s":737,"p":159.6},{"s":729,"p":129.3},{"s":733,"p":132.9},{"s":725,"p":132.2},
{"s":741,"p":136.5},{"s":743,"p":135.8},{"s":745,"p":134.6},{"s":747,"p":133.6},{"s":749,"p":132.9},{"s":751,"p":132.2},{"s":753,"p":131.7},{"s":755,"p":131.0},{"s":757,"p":130.5},{"s":744,"p":138.9},{"s":748,"p":137.7},{"s":752,"p":135.3},{"s":756,"p":130.0},{"s":759,"p":130.5},{"s":762,"p":131.2},{"s":765,"p":131.7},{"s":768,"p":132.2},{"s":771,"p":131.2},{"s":774,"p":130.3},{"s":777,"p":129.3},{"s":775,"p":128.1},{"s":772,"p":128.8},{"s":767,"p":129.8},{"s":762,"p":129.3},{"s":759,"p":132.2},{"s":774,"p":127.7},{"s":777,"p":133.4},{"s":780,"p":134.1},{"s":783,"p":134.6},{"s":786,"p":133.8},{"s":789,"p":135.3},
{"s":791,"p":136.5},{"s":793,"p":137.7},{"s":795,"p":138.9},{"s":797,"p":140.0},{"s":799,"p":140.8},{"s":801,"p":139.3},{"s":803,"p":138.4},{"s":792,"p":141.2},{"s":794,"p":142.4},{"s":799,"p":144.8},{"s":805,"p":150.1},{"s":797,"p":158.6},{"s":804,"p":137.7},{"s":806,"p":137.0},{"s":808,"p":136.0},{"s":810,"p":135.0},{"s":812,"p":134.1},{"s":814,"p":133.4},{"s":816,"p":132.4},{"s":818,"p":131.7},{"s":820,"p":131.2},{"s":819,"p":130.0},{"s":817,"p":132.9},{"s":814,"p":135.3},{"s":809,"p":137.4},{"s":818,"p":134.6},{"s":737,"p":180.6},{"s":797,"p":188.2}
]
},
"layer":[
{"layer":[
 {"data":{"name":"grey"},"mark":{"type":"area","color":"#d9d9d9","opacity":1,"clip":true},
  "encoding":{
   "x":{"field":"s","type":"quantitative","title":null,"scale":{"domain":[0,823],"nice":false,"zero":false},
     "axis":{"values":[0,16.9,33.8,50.7,67.6,84.5,101.4,118.3,135.2,152.1,169,185.9,202.8,219.7,236.6,253.5,270.4,287.3,304.2,321.1,338,354.9,371.8,388.7,405.6,422.5,439.4,456.3,473.2,490.1,507,523.9,540.8,557.7,574.6,591.5,608.4,625.3,642.2,659.1,676,692.9,709.8,726.7,743.6,760.5,777.4,794.3,811.2],
     "tickCount":200,
     "labelExpr":"['00:00.0','01:14.3','02:40.3','04:08.5','05:37.2','06:53.1','08:07.6','09:32.9','10:49.7','11:59.7','13:13.2','14:34.1','15:42.8','17:01.5','18:09.2','19:18.2','20:41.2','21:46.2','23:02.9','24:19.0','25:22.0','26:52.0','28:02.7','29:14.7','30:43.3','31:54.1','33:07.4','34:20.8','35:27.3','36:51.4','38:06.0','39:19.2','40:39.0','41:40.9','43:02.7','44:22.9','45:26.2','46:55.2','47:56.8','49:09.9','50:13.9','50:55.9','52:23.3','53:40.2','55:04.6','56:23.6','57:44.0','59:11.3','00:29.7'][round(datum.value/16.9)]",
     "labelAngle":-90,"ticks":false,"grid":false,"domainColor":"#868686","domainWidth":5,"labelPadding":6,"labelOverlap":false,"labelFlush":false,"labelBound":false,"labelFontSize":11}},
   "y":{"field":"hr","type":"quantitative","title":null,"scale":{"domain":[60,200],"nice":false,"zero":false},
     "axis":{"values":[60,80,100,120,140,160,180,200],"grid":true,"gridColor":"#868686","gridWidth":1,"domainColor":"#868686","tickColor":"#868686","tickSize":5,"labelPadding":3,"labelFlush":false,"labelFontSize":11}},
   "y2":{"datum":60}}},
 {"data":{"name":"zones"},"mark":{"type":"area","opacity":1,"clip":true},
  "encoding":{
   "x":{"field":"s","type":"quantitative","title":null},
   "y":{"field":"hr","type":"quantitative","title":null},
   "y2":{"datum":60},
   "detail":{"field":"g","type":"nominal"},
   "color":{"field":"z","type":"nominal","scale":{"domain":["<UT2","UT2","UT1","AT","TR","AN"],"range":["#d9d9d9","#ffc000","#92d050","#00b0f0","#7030a0","#ff0000"]},
     "legend":{"orient":"none","legendX":42,"legendY":-38,"direction":"horizontal","title":null,"symbolType":"M-1,-0.4167H1V0.4167H-1Z","symbolSize":576,"symbolStrokeWidth":0,"symbolOpacity":1,"labelOffset":3,"columnPadding":16}}}},
 {"data":{"name":"lines"},"mark":{"type":"rule","strokeWidth":3},
  "encoding":{
   "y":{"field":"hr","type":"quantitative","title":null},
   "color":{"field":"line","type":"nominal","scale":{"domain":["UT2","UT1","AT","TR","AN"],"range":["#000000","#000000","#000000","#000000","#000000"]},
     "legend":{"orient":"none","legendX":414,"legendY":-39,"direction":"horizontal","title":null,"symbolType":"stroke","symbolSize":676,"symbolStrokeWidth":3,"labelOffset":4,"columnPadding":6}}}},
 {"mark":{"type":"rule","strokeWidth":3,"color":"#000000"},
  "encoding":{"x":{"datum":823},"y":{"datum":167.2},"y2":{"datum":60}}},
 {"data":{"name":"labels"},"mark":{"type":"text","font":"Liberation Sans","fontSize":12,"fontWeight":"bold","color":"#000000"},
  "encoding":{"x":{"field":"s","type":"quantitative","title":null},"y":{"field":"hr","type":"quantitative","title":null},"text":{"field":"t"}}}
 ],
 "resolve":{"scale":{"color":"independent"}}},
{"data":{"name":"pace"},"mark":{"type":"point","filled":true,"size":16,"opacity":1,"clip":true},
 "encoding":{
  "x":{"field":"s","type":"quantitative","title":null},
  "y":{"field":"p","type":"quantitative","title":null,"scale":{"domain":[90,223.4],"reverse":true,"nice":false,"zero":false},
    "axis":{"orient":"right","values":[90,100,110,120,130,140,150,160,170,180,190,200],"tickCount":50,"labelExpr":"floor(datum.value/60)+':'+(datum.value%60<10?'0':'')+(datum.value%60)","grid":false,"domainColor":"#868686","tickColor":"#868686","tickSize":6,"labelPadding":6,"labelFlush":false,"labelFontSize":11}},
  "color":{"datum":"Pace","scale":{"domain":["Pace"],"range":["#000000"]},
    "legend":{"orient":"none","legendX":726,"legendY":-30,"direction":"horizontal","title":null,"symbolType":"circle","symbolSize":16,"labelOffset":12}}}}
],
"resolve":{"scale":{"y":"independent","color":"independent"}}
}
